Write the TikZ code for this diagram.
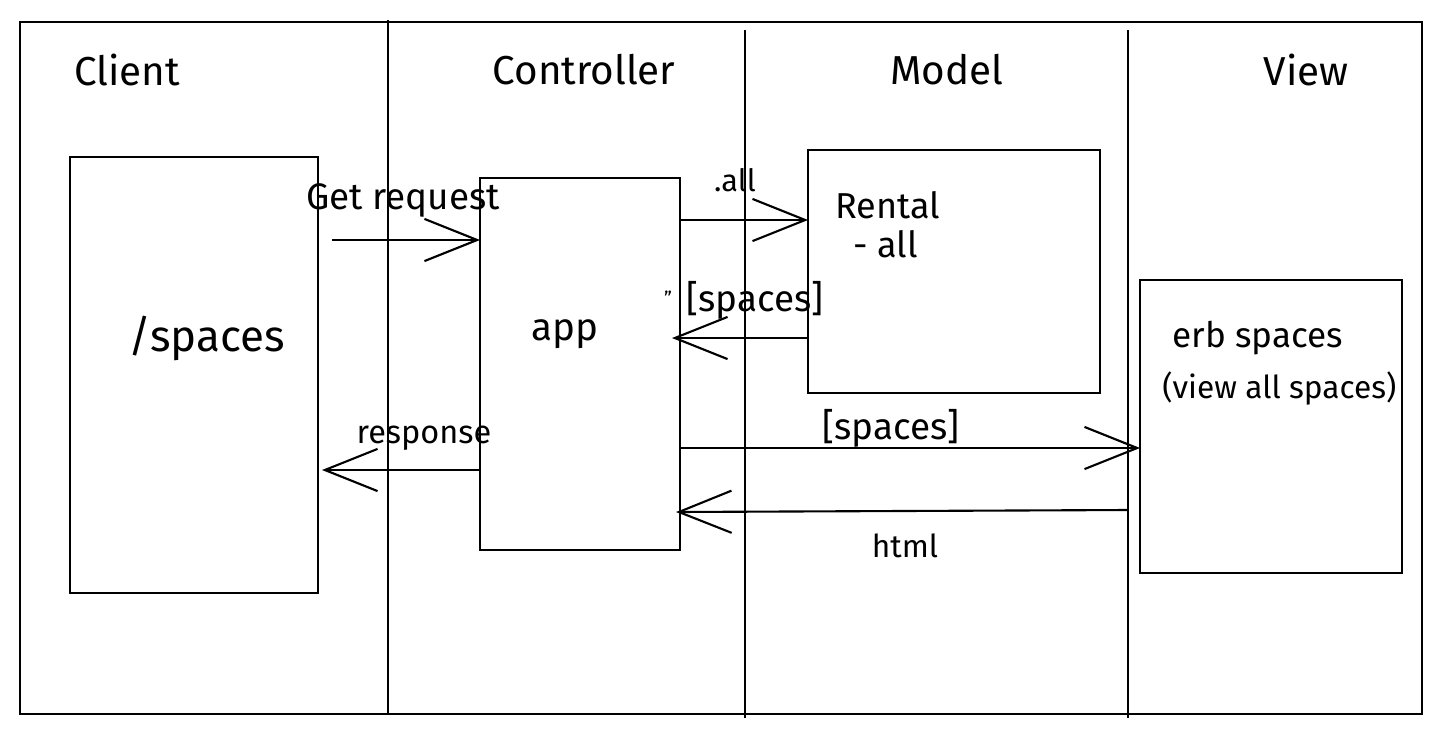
\documentclass[tikz,border=0pt]{standalone}
\usepackage{fontspec}
\setmainfont{Fira Sans}
\usetikzlibrary{arrows.meta}
\tikzset{
  lane/.style={line width=1.2pt},
  box/.style={draw,line width=1.2pt,inner sep=0pt,outer sep=0pt},
  flow/.style={line width=1.2pt,-{Straight Barb[length=30pt,width=24pt,line width=1.2pt]}},
  head/.style={font=\fontsize{23}{27}\selectfont},
  lbl/.style={font=\fontsize{19}{23}\selectfont,inner sep=0pt},
}
\begin{document}
\begin{tikzpicture}[x=0.02cm,y=-0.02cm]
    \useasboundingbox (0,0) rectangle (1441,738);
    % frame and lanes
    \draw[lane] (20,22) rectangle (1422,714);
    \draw[lane] (388,20) -- (388,714);
    \draw[lane] (745,30) -- (745,718);
    \draw[lane] (1128,30) -- (1128,718);
    % lane titles
    \node[head] (tclient) at (127,70) {Client};
    \node[head] (tctrl) at (584,70) {Controller};
    \node[head] (tmodel) at (947,70) {Model};
    \node[head] (tview) at (1306,70) {View};
    % boxes
    \node[box,minimum width=4.96cm,minimum height=8.72cm] (client) at (194,375) {};
    \node[box,minimum width=4cm,minimum height=7.44cm] (app) at (580,364) {};
    \node[box,minimum width=5.84cm,minimum height=4.86cm] (rental) at (954,271.5) {};
    \node[box,minimum width=5.24cm,minimum height=5.86cm] (erb) at (1271,426.5) {};
    % box texts
    \node[font=\fontsize{25}{29}\selectfont] (spaces) at (207,338) {/spaces};
    \node[font=\fontsize{22}{26}\selectfont] (apptext) at (565,334) {app};
    \node[lbl,anchor=west,font=\fontsize{20.5}{24}\selectfont] (rentaltext) at (835,205) {Rental};
    \node[lbl,anchor=west,font=\fontsize{20.5}{24}\selectfont] (alltext) at (853,244) {- all};
    \node[lbl,anchor=west,font=\fontsize{20}{24}\selectfont] (erbtext) at (1172,338) {erb spaces};
    \node[lbl,anchor=west,font=\fontsize{18}{21}\selectfont] (viewtext) at (1162,388) {(view all spaces)};
    % connectors
    \draw[flow] (332,240) -- (app.west |- 0,240);
    \draw[flow] (app.east |- 0,220) -- (rental.west |- 0,220);
    \draw[flow] (rental.west |- 0,338) -- (672,338);
    \draw[flow] (app.west |- 0,470) -- (322,470);
    \draw[flow] (app.east |- 0,448) -- (erb.west |- 0,448);
    \draw[flow] (1128,510) -- (676,512);
    % connector labels
    \node[lbl,font=\fontsize{21}{25}\selectfont] (lget) at (403,200) {Get request};
    \node[lbl,font=\fontsize{17.5}{21}\selectfont] (ldotall) at (735,180) {.all};
    \node[lbl,font=\fontsize{11}{13}\selectfont] (lmark) at (668,298) {''};
    \node[lbl,font=\fontsize{21}{25}\selectfont] (lret) at (755,300) {[spaces]};
    \node[lbl,font=\fontsize{18.5}{22}\selectfont] (lresp) at (424,438) {response};
    \node[lbl,font=\fontsize{21}{25}\selectfont] (lview) at (891,428) {[spaces]};
    \node[lbl,font=\fontsize{18}{22}\selectfont] (lhtml) at (905,546) {html};
\end{tikzpicture}
\end{document}
